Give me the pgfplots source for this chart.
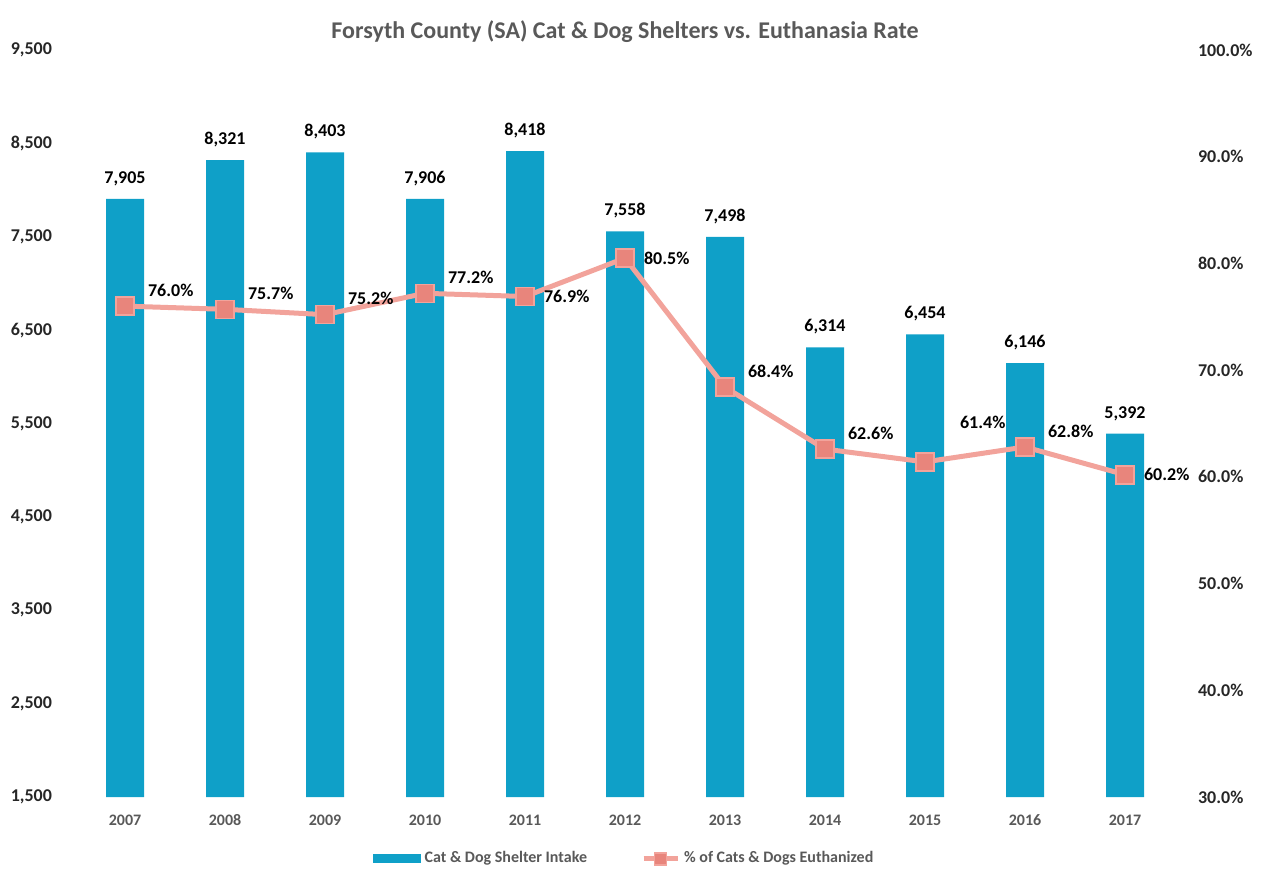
\documentclass[border=0pt]{standalone}
\usepackage{fontspec}
\setmainfont{Carlito}
\usepackage{pgfplots}
\pgfplotsset{compat=1.18}
\definecolor{barc}{HTML}{0FA0C8}
\definecolor{linec}{HTML}{F2A39B}
\definecolor{markc}{HTML}{E8857C}
\definecolor{titlec}{HTML}{595959}
\definecolor{tickc}{HTML}{262626}
\begin{document}
\begin{tikzpicture}
\useasboundingbox (-37.5pt,-41pt) rectangle (593pt,398.5pt);
\pgfplotsset{
  common/.style={
    scale only axis, width=550pt, height=373.5pt,
    xmin=-0.5, xmax=10.5, ymin=1500, ymax=9500,
    axis line style={draw=none}, major tick length=0pt,
    /pgf/number format/assume math mode=true,
    tick label style={font=\bfseries\small, text=tickc},
  }
}
\begin{axis}[common,
  axis y line*=left,
  xtick={0,...,10},
  xticklabels={2007,2008,2009,2010,2011,2012,2013,2014,2015,2016,2017},
  xticklabel style={font=\bfseries\footnotesize, text=titlec, yshift=-3pt, text height=1.6ex, text depth=0pt},
  ytick={1500,2500,...,9500},
  yticklabel style={/pgf/number format/1000 sep={,}, xshift=-8pt},
  title={Forsyth County (SA) Cat \& Dog Shelters vs. Euthanasia Rate},
  title style={font=\bfseries\large, text=titlec, yshift=-6pt},
  legend style={at={(0.5,-0.062)}, anchor=north, draw=none, legend columns=2,
    font=\bfseries\footnotesize, text=titlec, /tikz/every even column/.append style={column sep=25pt}},
]
\addplot[ybar, bar width=19pt, fill=barc, draw=none,
  nodes near coords, nodes near coords style={font=\bfseries\small, text=black, yshift=3pt},
  /pgf/number format/1000 sep={,},
  legend image code/.code={\fill[barc] (0pt,-2pt) rectangle (24pt,2.5pt);}]
  coordinates {(0,7905) (1,8321) (2,8403) (3,7906) (4,8418) (5,7558) (6,7498) (7,6314) (8,6454) (9,6146) (10,5392)};
\addlegendentry{Cat \& Dog Shelter Intake}
\addlegendimage{linec, line width=2.5pt, mark=square*, mark options={fill=markc, draw=linec, line width=0.8pt, mark size=3pt}}
\addlegendentry{\% of Cats \& Dogs Euthanized}
\end{axis}
\begin{axis}[common,
  ymin=30, ymax=100,
  axis y line*=right, axis x line=none,
  ytick={30,40,...,100},
  yticklabel={\pgfmathprintnumber[fixed,fixed zerofill,precision=1]{\tick}\%},
  yticklabel style={xshift=8pt},
]
\addplot[linec, line width=2.5pt, mark=square*, mark options={fill=markc, draw=linec, line width=0.8pt}, mark size=4.5pt]
  coordinates {(0,76.0) (1,75.7) (2,75.2) (3,77.2) (4,76.9) (5,80.5) (6,68.4) (7,62.6) (8,61.4) (9,62.8) (10,60.2)};
\addplot[draw=none, nodes near coords={\pgfmathprintnumber[fixed,fixed zerofill,precision=1]{\pgfplotspointmeta}\%},
  nodes near coords style={font=\bfseries\small, text=black, anchor=west, xshift=8pt, yshift=8pt}]
  coordinates {(0,76.0) (1,75.7) (2,75.2) (3,77.2) (6,68.4) (7,62.6) (9,62.8)};
\addplot[draw=none, nodes near coords={\pgfmathprintnumber[fixed,fixed zerofill,precision=1]{\pgfplotspointmeta}\%},
  nodes near coords style={font=\bfseries\small, text=black, anchor=west, xshift=14pt, yshift=20pt}]
  coordinates {(8,61.4)};
\addplot[draw=none, nodes near coords={\pgfmathprintnumber[fixed,fixed zerofill,precision=1]{\pgfplotspointmeta}\%},
  nodes near coords style={font=\bfseries\small, text=black, anchor=west, xshift=6pt, yshift=0pt}]
  coordinates {(4,76.9) (5,80.5) (10,60.2)};
\end{axis}
\end{tikzpicture}
\end{document}
